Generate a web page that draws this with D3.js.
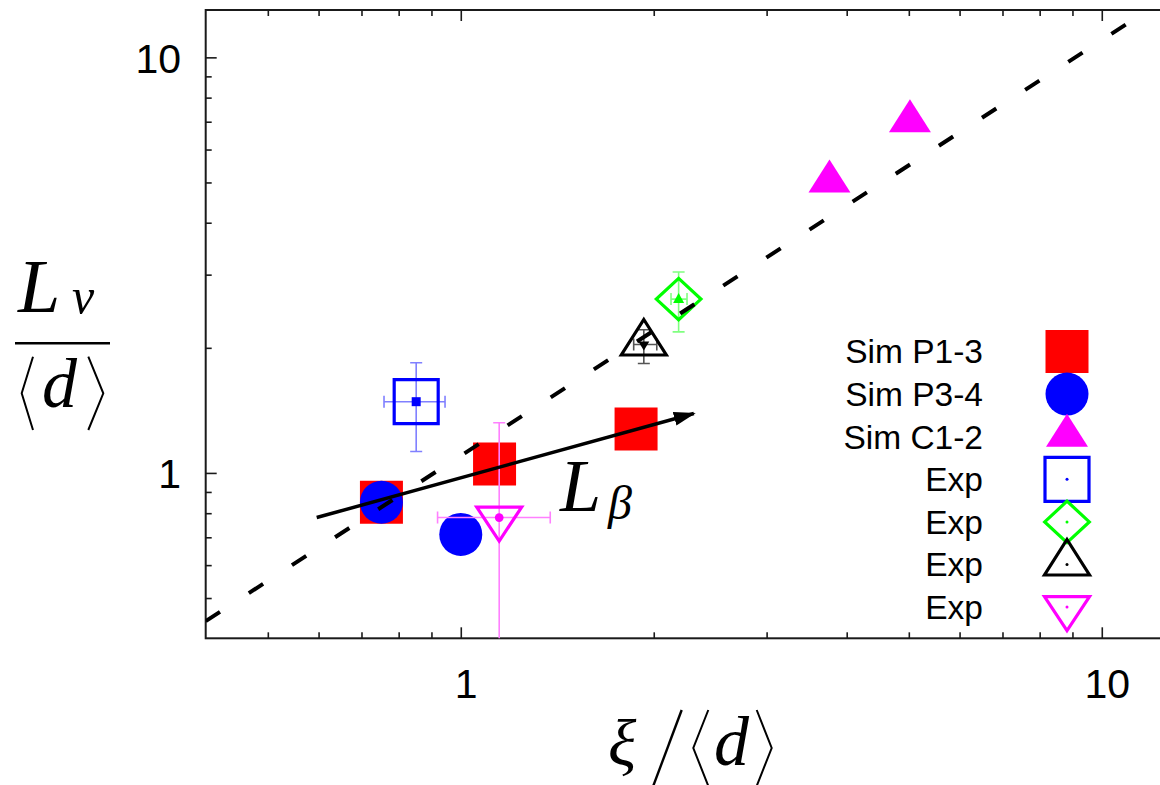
<!DOCTYPE html>
<html>
<head>
<meta charset="utf-8">
<script src="https://cdn.jsdelivr.net/npm/d3@7"></script>
<style>
  body { margin: 0; background: #fff; }
  svg { display: block; }
</style>
</head>
<body>
<svg id="chart" width="1160" height="785"></svg>
<script>
// ---- data ----
// simulations: [xi/<d>, Lv/<d>]
const simP13 = [[0.752, 0.850], [1.129, 1.051], [1.877, 1.275]];
const simP34 = [[0.752, 0.850], [1.0, 0.711]];
const simC12 = [[3.76, 5.00], [5.02, 6.98]];
// experiments: [x, y, xLow, xHigh, yLow, yHigh]
const expBlue    = [[0.852, 1.484, 0.759, 0.945, 1.126, 1.841]];
const expGreen   = [[2.187, 2.620, 2.128, 2.254, 2.185, 3.045]];
const expBlack   = [[1.930, 2.037, 1.861, 2.022, 1.834, 2.210]];
const expMagenta = [[1.148, 0.781, 0.920, 1.379, 0.250, 1.321]];
// reference line Lv = 1.1 xi, and the L_beta arrow
const fitLine = [[0.4, 0.44], [11.8, 12.98]];
const betaArrow = [[0.596, 0.781], [2.31, 1.39]];
// ticks
const majorTicks = [1, 10];
const minorTicks = [0.5, 0.6, 0.7, 0.8, 0.9, 2, 3, 4, 5, 6, 7, 8, 9];
const tickLabels = ["1", "10"];
const legendLabels = ["Sim P1-3", "Sim P3-4", "Sim C1-2", "Exp", "Exp", "Exp", "Exp"];

// ---- layout ----
const svg = d3.select("#chart");
const plotLeft = 205.7, plotTop = 10, plotBottom = 638.3, decadeX = 641;
const x = d3.scaleLog().domain([0.4, 13]).range([plotLeft, plotLeft + decadeX * Math.log10(13 / 0.4)]);
const y = d3.scaleLog().domain([0.4, 13]).range([plotBottom, plotTop]);
const plotRight = x.range()[1];

const defs = svg.append("defs");
defs.append("clipPath").attr("id", "plotClip")
  .append("rect").attr("x", plotLeft).attr("y", plotTop)
  .attr("width", plotRight - plotLeft).attr("height", plotBottom - plotTop);

// ---- axes ----
const tickFont = "41px 'Liberation Sans', Arial, sans-serif";
const fmt = d => tickLabels[majorTicks.indexOf(d)];

function styleAxis(g) {
  g.select(".domain").remove();
  g.selectAll(".tick line").attr("stroke", "#1a1a1a").attr("stroke-width", 1.6);
  g.selectAll(".tick text").style("font", tickFont).attr("fill", "#000");
}

svg.append("g").attr("transform", `translate(0,${plotBottom})`)
  .call(d3.axisBottom(x).tickValues(majorTicks).tickFormat(fmt).tickSize(-11).tickPadding(30.6))
  .call(styleAxis)
  .call(g => g.selectAll(".tick text").attr("dx", 5));
svg.append("g").attr("transform", `translate(0,${plotBottom})`)
  .call(d3.axisBottom(x).tickValues(minorTicks).tickFormat("").tickSize(-6))
  .call(styleAxis);
svg.append("g").attr("transform", `translate(0,${plotTop})`)
  .call(d3.axisTop(x).tickValues(majorTicks).tickFormat("").tickSize(-11))
  .call(styleAxis);
svg.append("g").attr("transform", `translate(0,${plotTop})`)
  .call(d3.axisTop(x).tickValues(minorTicks).tickFormat("").tickSize(-6))
  .call(styleAxis);
svg.append("g").attr("transform", `translate(${plotLeft},0)`)
  .call(d3.axisLeft(y).tickValues(majorTicks).tickFormat(fmt).tickSize(-11).tickPadding(24.7))
  .call(styleAxis)
  .call(g => g.selectAll(".tick text").attr("dy", "0.36em"));
svg.append("g").attr("transform", `translate(${plotLeft},0)`)
  .call(d3.axisLeft(y).tickValues(minorTicks).tickFormat("").tickSize(-6))
  .call(styleAxis);

// frame
svg.append("rect").attr("x", plotLeft).attr("y", plotTop)
  .attr("width", plotRight - plotLeft).attr("height", plotBottom - plotTop)
  .attr("fill", "none").attr("stroke", "#1a1a1a").attr("stroke-width", 2);

// ---- marker shapes ----
const shapes = {
  fsquare: "M-21.5,-21.5H21.5V21.5H-21.5Z",
  fcircle: d3.symbol(d3.symbolCircle, Math.PI * 21.5 * 21.5)(),
  ftri: "M0,-23L21,10L-21,10Z",
  osquare: "M-22,-22H22V22H-22Z",
  odiamond: "M0,-20.7L22.3,0L0,20.7L-22.3,0Z",
  otri: "M0,-25L22.5,10.5L-22.5,10.5Z",
  otridown: "M-22.5,-10.5H22.5L0,23.5Z"
};
const dotShapes = {
  blue: "M-4.5,-4.5H4.5V4.5H-4.5Z",
  green: "M0,-6L5.5,4L-5.5,4Z",
  black: "M-5.5,-3H5.5L0,6Z",
  magenta: d3.symbol(d3.symbolCircle, 60)()
};

const plot = svg.append("g").attr("clip-path", "url(#plotClip)");

function filled(data, shape, color) {
  plot.append("g").selectAll("path").data(data).join("path")
    .attr("d", shapes[shape])
    .attr("transform", d => `translate(${x(d[0])},${y(d[1])})`)
    .attr("fill", color);
}
filled(simP13, "fsquare", "#ff0000");
filled(simP34, "fcircle", "#0000ff");
filled(simC12, "ftri", "#ff00ff");

function experiment(data, shape, color, barColor, dotKey) {
  const g = plot.append("g");
  const cap = 6;
  data.forEach(d => {
    const cx = x(d[0]), cy = y(d[1]);
    const x0 = x(d[2]), x1 = x(d[3]), y0 = y(d[4]), y1 = y(d[5]);
    const bars = `M${x0},${cy}H${x1}M${x0},${cy - cap}V${cy + cap}M${x1},${cy - cap}V${cy + cap}` +
                 `M${cx},${y0}V${y1}M${cx - cap},${y0}H${cx + cap}M${cx - cap},${y1}H${cx + cap}`;
    g.append("path").attr("d", bars).attr("fill", "none")
      .attr("stroke", barColor).attr("stroke-width", 1.6);
    g.append("path").attr("d", shapes[shape])
      .attr("transform", `translate(${cx},${cy})`)
      .attr("fill", "none").attr("stroke", color).attr("stroke-width", 3.2);
    g.append("path").attr("d", dotShapes[dotKey])
      .attr("transform", `translate(${cx},${cy})`).attr("fill", color);
  });
}
experiment(expBlue, "osquare", "#0000ff", "#8080ff", "blue");
experiment(expMagenta, "otridown", "#ff00ff", "#ff80ff", "magenta");
experiment(expBlack, "otri", "#000000", "#555555", "black");
experiment(expGreen, "odiamond", "#00ff00", "#80ff80", "green");

// reference line
const line = d3.line().x(d => x(d[0])).y(d => y(d[1]));
plot.append("path").datum(fitLine).attr("d", line)
  .attr("fill", "none").attr("stroke", "#000").attr("stroke-width", 4)
  .attr("stroke-dasharray", "17,34.4");

// L_beta arrow
defs.append("marker").attr("id", "head")
  .attr("markerUnits", "userSpaceOnUse").attr("viewBox", "0 -8 22 16")
  .attr("markerWidth", 22).attr("markerHeight", 16)
  .attr("refX", 20).attr("refY", 0).attr("orient", "auto")
  .append("path").attr("d", "M0,-7L22,0L0,7Z").attr("fill", "#000");
svg.append("path").datum(betaArrow).attr("d", line)
  .attr("fill", "none").attr("stroke", "#000").attr("stroke-width", 3.5)
  .attr("marker-end", "url(#head)");

// ---- math labels ----
const serif = "'Liberation Serif', 'Times New Roman', serif";
function mtext(t, px, py, size) {
  svg.append("text").attr("x", px).attr("y", py).text(t)
    .style("font-family", serif).style("font-style", "italic")
    .style("font-size", size + "px").attr("fill", "#000");
}
function stroke(d, w) {
  svg.append("path").attr("d", d).attr("fill", "none")
    .attr("stroke", "#000").attr("stroke-width", w);
}
// L_beta
mtext("L", 560, 510.7, 74);
mtext("β", 608, 519, 48);

// y label: L_v / <d>
mtext("L", 18, 311.7, 76);
mtext("v", 72, 313, 50);
stroke("M15,343.3H110", 2.6);
stroke("M33,356.7L21.7,393.3L33,430", 2);
mtext("d", 42, 406.7, 70);
stroke("M88.3,356.7L103.3,393.3L88.3,430", 2);

// x label: xi / <d>
mtext("ξ", 608, 765, 66);
stroke("M681.7,710L651.7,790", 2.4);
stroke("M708.3,710L693.3,748L708.3,786", 2);
mtext("d", 714, 765, 70);
stroke("M756.7,710L771.7,748L756.7,786", 2);

// ---- legend ----
const legendShapes = [
  {shape: "fsquare", fill: "#ff0000"},
  {shape: "fcircle", fill: "#0000ff"},
  {shape: "ftri", fill: "#ff00ff"},
  {shape: "osquare", stroke: "#0000ff"},
  {shape: "odiamond", stroke: "#00ff00"},
  {shape: "otri", stroke: "#000000"},
  {shape: "otridown", stroke: "#ff00ff"}
];
const legend = svg.append("g");
legendLabels.forEach((lab, i) => {
  const cy = 351.5 + 42.6 * i;
  legend.append("text").attr("x", 983).attr("y", cy + 11.8)
    .attr("text-anchor", "end").text(lab)
    .style("font", "33.5px 'Liberation Sans', Arial, sans-serif").attr("fill", "#000");
  const s = legendShapes[i];
  legend.append("path").attr("d", shapes[s.shape])
    .attr("transform", `translate(1067,${cy})`)
    .attr("fill", s.fill || "none")
    .attr("stroke", s.stroke || "none").attr("stroke-width", 3.2);
  if (s.stroke) {
    legend.append("circle").attr("cx", 1067).attr("cy", cy).attr("r", 1.5).attr("fill", s.stroke);
  }
});
</script>
</body>
</html>
